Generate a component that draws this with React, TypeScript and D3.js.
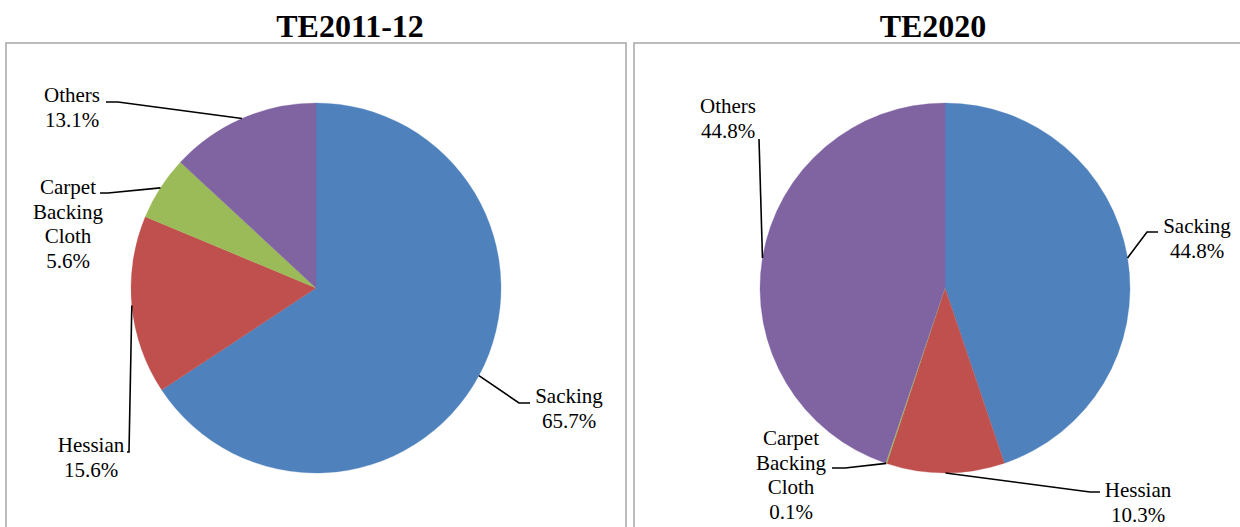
import React from "react";
import * as d3 from "d3";

const categories = ["Sacking", "Hessian", "Carpet Backing Cloth", "Others"];
const categoryLines = [["Sacking"], ["Hessian"], ["Carpet", "Backing", "Cloth"], ["Others"]];
const te2011Values = [65.7, 15.6, 5.6, 13.1];
const te2020Values = [44.8, 10.3, 0.1, 44.8];
const panelTitles = ["TE2011-12", "TE2020"];
const colors = ["#4F81BD", "#C0504D", "#9BBB59", "#8064A2"];

type LabelLayout = { x: number; y: number; pts: [number, number][] };

const panels = [
  {
    title: panelTitles[0],
    values: te2011Values,
    box: { x: 6, y: 43, w: 620 },
    titleX: 350,
    cx: 316,
    cy: 288,
    r: 185,
    labels: [
      { x: 569, y: 403, pts: [[519, 403], [530, 403]] },
      { x: 91, y: 452, pts: [[129, 452], [127, 452]] },
      { x: 68, y: 194, pts: [[108, 193], [100, 193]] },
      { x: 72, y: 102, pts: [[118, 102], [106, 102]] },
    ] as LabelLayout[],
  },
  {
    title: panelTitles[1],
    values: te2020Values,
    box: { x: 634, y: 43, w: 620 },
    titleX: 933,
    cx: 945,
    cy: 288,
    r: 185,
    labels: [
      { x: 1197, y: 233, pts: [[1147, 232], [1158, 232]] },
      { x: 1138, y: 497, pts: [[1090, 492], [1100, 492]] },
      { x: 791, y: 445, pts: [[845, 468], [832, 468]] },
      { x: 728, y: 113, pts: [[759, 139]] },
    ] as LabelLayout[],
  },
];

const FONT = "Liberation Serif";
const LINE_H = 24.5;

function Pie({ p }: { p: (typeof panels)[number] }) {
  const data = categories.map((c, i) => ({ c, i, v: p.values[i] }));
  const pie = d3
    .pie<{ c: string; i: number; v: number }>()
    .sort(null)
    .value((d) => d.v)
    .startAngle(0)
    .endAngle(2 * Math.PI);
  const arcs = pie(data);
  const arcGen = d3
    .arc<d3.PieArcDatum<{ c: string; i: number; v: number }>>()
    .innerRadius(0)
    .outerRadius(p.r);
  const line = d3.line();
  return (
    <g>
      <rect
        x={p.box.x}
        y={p.box.y}
        width={p.box.w}
        height={520}
        fill="none"
        stroke="#a6a6a6"
        strokeWidth={1.5}
      />
      <text
        x={p.titleX}
        y={37}
        textAnchor="middle"
        style={{ fontFamily: FONT, fontWeight: "bold", fontSize: 32 }}
      >
        {p.title}
      </text>
      <g transform={`translate(${p.cx},${p.cy})`}>
        {arcs.map((a) => (
          <path key={a.data.c} d={arcGen(a) || ""} fill={colors[a.data.i]} stroke={colors[a.data.i]} strokeWidth={0.3} />
        ))}
      </g>
      {arcs.map((a) => {
        const mid = (a.startAngle + a.endAngle) / 2;
        const sx = p.cx + p.r * Math.sin(mid);
        const sy = p.cy - p.r * Math.cos(mid);
        const L = p.labels[a.data.i];
        const pts: [number, number][] = [[sx, sy], ...L.pts];
        const lines = [...categoryLines[a.data.i], `${a.data.v.toFixed(1)}%`];
        return (
          <g key={"l" + a.data.c}>
            <path d={line(pts) || ""} fill="none" stroke="#000" strokeWidth={1.6} />
            <text x={L.x} y={L.y} textAnchor="middle" style={{ fontFamily: FONT, fontSize: 21 }}>
              {lines.map((t, k) => (
                <tspan key={k} x={L.x} y={L.y + k * LINE_H}>
                  {t}
                </tspan>
              ))}
            </text>
          </g>
        );
      })}
    </g>
  );
}

export default function App() {
  return (
    <svg
      width={1240}
      height={527}
      style={{ position: "absolute", left: 0, top: 0, background: "#fff" }}
    >
      <rect x={0} y={0} width={1240} height={527} fill="#fff" />
      {panels.map((p) => (
        <Pie key={p.title} p={p} />
      ))}
    </svg>
  );
}
